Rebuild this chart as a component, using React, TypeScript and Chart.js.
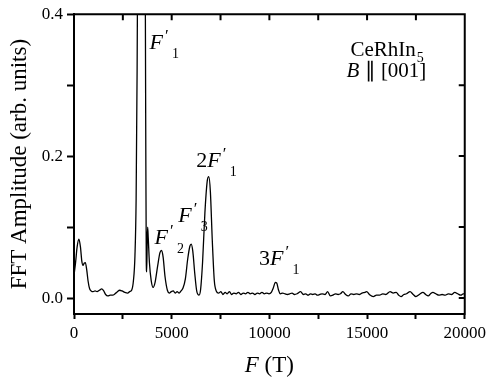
import React, { useEffect, useRef } from "react";
import { Chart, registerables } from "chart.js";

Chart.register(...registerables);

// Frequency (T) and FFT amplitude (arb. units) (10 per row, rows aligned)
const freqT = [
  0, 80, 160, 250, 330, 400, 460, 520, 580, 650,
  720, 800, 880, 980, 1080, 1180, 1300, 1420, 1520, 1620,
  1730, 1850, 1980, 2100, 2220, 2340, 2460, 2600, 2750, 2850,
  2950, 3040, 3120, 3180, 3230, 3280, 3380, 3460, 3560, 3630,
  3670, 3700, 3720, 3750, 3770, 3800, 3860, 3950, 4050, 4150,
  4280, 4400, 4480, 4560, 4660, 4780, 4880, 4980, 5080, 5180,
  5280, 5380, 5480, 5580, 5700, 5820, 5930, 6000, 6080, 6180,
  6280, 6400, 6480, 6580, 6700, 6820, 6900, 6980, 7080, 7180,
  7280, 7400, 7520, 7620, 7740, 7840, 7960, 8060, 8180, 8300,
  8420, 8540, 8660, 8780, 8900, 9020, 9140, 9260, 9380, 9500,
  9620, 9740, 9860, 9980, 10100, 10200, 10300, 10380, 10460, 10560,
  10680, 10800, 10920, 11040, 11160, 11280, 11420, 11600, 11740, 11860,
  11980, 12100, 12220, 12340, 12460, 12580, 12700, 12850, 12980, 13120,
  13250, 13380, 13520, 13640, 13760, 13900, 14040, 14180, 14320, 14460,
  14600, 14740, 14880, 14980, 15120, 15320, 15480, 15640, 15800, 15960,
  16180, 16340, 16490, 16620, 16740, 16880, 17020, 17200, 17360, 17500,
  17680, 17860, 18000, 18130, 18250, 18370, 18520, 18680, 18840, 19000,
  19160, 19320, 19490, 19640, 19800, 19920, 20000,
];
const amp = [
  0.032, 0.05, 0.072, 0.083, 0.072, 0.052, 0.046, 0.049, 0.05, 0.04,
  0.024, 0.013, 0.01, 0.009, 0.01, 0.009, 0.011, 0.013, 0.01, 0.005,
  0.003, 0.004, 0.004, 0.006, 0.009, 0.011, 0.01, 0.008, 0.007, 0.009,
  0.011, 0.024, 0.06, 0.14, 0.32, 0.6, 0.95, 1.1, 0.95, 0.6,
  0.25, 0.05, 0.037, 0.085, 0.1, 0.085, 0.05, 0.025, 0.015, 0.022,
  0.045, 0.064, 0.067, 0.058, 0.03, 0.011, 0.007, 0.009, 0.01, 0.007,
  0.009, 0.007, 0.01, 0.014, 0.027, 0.055, 0.073, 0.076, 0.066, 0.035,
  0.01, 0.004, 0.012, 0.05, 0.12, 0.165, 0.171, 0.15, 0.08, 0.025,
  0.01, 0.007, 0.009, 0.005, 0.008, 0.006, 0.009, 0.005, 0.007, 0.006,
  0.008, 0.005, 0.007, 0.006, 0.008, 0.006, 0.007, 0.005, 0.007, 0.006,
  0.008, 0.006, 0.007, 0.006, 0.008, 0.014, 0.022, 0.021, 0.012, 0.006,
  0.007, 0.006, 0.005, 0.006, 0.007, 0.005, 0.006, 0.009, 0.005, 0.006,
  0.004, 0.006, 0.005, 0.006, 0.004, 0.005, 0.006, 0.005, 0.009, 0.003,
  0.004, 0.006, 0.005, 0.006, 0.009, 0.005, 0.003, 0.006, 0.005, 0.006,
  0.005, 0.007, 0.008, 0.009, 0.005, 0.002, 0.004, 0.004, 0.006, 0.005,
  0.009, 0.007, 0.008, 0.004, 0.002, 0.005, 0.006, 0.009, 0.005, 0.002,
  0.005, 0.008, 0.005, 0.003, 0.006, 0.008, 0.006, 0.004, 0.005, 0.004,
  0.006, 0.005, 0.008, 0.006, 0.004, 0.006, 0.006,
];

const xTicks = [0, 2500, 5000, 7500, 10000, 12500, 15000, 17500, 20000];
const xLabelled = [0, 5000, 10000, 15000, 20000];
const yTicks = [0, 0.1, 0.2, 0.3, 0.4];
const yLabelled = [0, 0.2, 0.4];

// Peak labels: prefix, subscript, and the data-space anchor of each label's baseline
const peakPrefixes = ["", "", "", "2", "3"];
const peakSubs = ["1", "2", "3", "1", "1"];
const peakLabelX = [3870, 4120, 5340, 6260, 9466];
const peakLabelY = [0.351, 0.076, 0.107, 0.185, 0.046];

const compoundText = "CeRhIn";
const compoundSub = "5";
const fieldPrefix = "B";
const fieldText = " \u2225 [001]";

const yTitle = "FFT Amplitude (arb. units)";
const xTitleItalic = "F";
const xTitleRest = " (T)";

const SERIF = "'Liberation Serif', 'Times New Roman', serif";

const overlay = {
  id: "overlay",
  afterDraw(chart: any) {
    const { ctx, chartArea: a, scales } = chart;
    const xs = scales.x;
    const ys = scales.y;
    ctx.save();
    ctx.strokeStyle = "#000";
    ctx.fillStyle = "#000";
    ctx.lineWidth = 2;
    ctx.beginPath();
    ctx.moveTo(a.left - 1, a.top);
    ctx.lineTo(a.right + 1, a.top);
    ctx.moveTo(a.right, a.top);
    ctx.lineTo(a.right, a.bottom + 1);
    for (const v of xTicks) {
      const px = xs.getPixelForValue(v);
      ctx.moveTo(px, a.top);
      ctx.lineTo(px, a.top + 6);
    }
    for (const v of yTicks) {
      const py = ys.getPixelForValue(v);
      ctx.moveTo(a.right, py);
      ctx.lineTo(a.right - 6, py);
    }
    ctx.stroke();

    ctx.textAlign = "left";
    ctx.textBaseline = "alphabetic";
    for (let i = 0; i < peakSubs.length; i++) {
      let cx = xs.getPixelForValue(peakLabelX[i]);
      const by = ys.getPixelForValue(peakLabelY[i]);
      if (peakPrefixes[i]) {
        ctx.font = `22px ${SERIF}`;
        ctx.fillText(peakPrefixes[i], cx, by);
        cx += ctx.measureText(peakPrefixes[i]).width;
      }
      ctx.font = `italic 22px ${SERIF}`;
      ctx.fillText("F", cx, by);
      cx += ctx.measureText("F").width;
      ctx.font = `17px ${SERIF}`;
      ctx.fillText("\u2032", cx + 2, by - 8);
      ctx.font = `14px ${SERIF}`;
      ctx.fillText(peakSubs[i], cx + 9, by + 9);
    }

    {
      let cx = xs.getPixelForValue(14150);
      const by = ys.getPixelForValue(0.341);
      ctx.font = `21px ${SERIF}`;
      ctx.fillText(compoundText, cx, by);
      cx += ctx.measureText(compoundText).width;
      ctx.font = `14px ${SERIF}`;
      ctx.fillText(compoundSub, cx + 1, by + 6);

      let fx = xs.getPixelForValue(13950);
      const fy = ys.getPixelForValue(0.312);
      ctx.font = `italic 21px ${SERIF}`;
      ctx.fillText(fieldPrefix, fx, fy);
      fx += ctx.measureText(fieldPrefix).width;
      ctx.font = `21px ${SERIF}`;
      ctx.fillText(fieldText, fx, fy);
    }

    ctx.save();
    ctx.translate(20, (a.top + a.bottom) / 2);
    ctx.rotate(-Math.PI / 2);
    ctx.textAlign = "center";
    ctx.textBaseline = "middle";
    ctx.font = `23px ${SERIF}`;
    ctx.fillText(yTitle, 0, 0);
    ctx.restore();

    ctx.font = `italic 23px ${SERIF}`;
    const w1 = ctx.measureText(xTitleItalic).width;
    ctx.font = `23px ${SERIF}`;
    const w2 = ctx.measureText(xTitleRest).width;
    const sx = (a.left + a.right) / 2 - (w1 + w2) / 2;
    const ty = a.bottom + 58;
    ctx.font = `italic 23px ${SERIF}`;
    ctx.fillText(xTitleItalic, sx, ty);
    ctx.font = `23px ${SERIF}`;
    ctx.fillText(xTitleRest, sx + w1, ty);
    ctx.restore();
  },
};

export default function App() {
  const ref = useRef<HTMLCanvasElement | null>(null);
  useEffect(() => {
    if (!ref.current) return;
    const chart = new Chart(ref.current, {
      type: "line",
      data: {
        datasets: [
          {
            data: freqT.map((f, i) => ({ x: f, y: amp[i] })),
            borderColor: "#000",
            borderWidth: 1.3,
            pointRadius: 0,
            cubicInterpolationMode: "monotone",
            fill: false,
          },
        ],
      },
      options: {
        animation: false,
        responsive: false,
        devicePixelRatio: 1,
        layout: { padding: { top: 12, right: 23, left: 0, bottom: 0 } },
        plugins: { legend: { display: false }, tooltip: { enabled: false } },
        scales: {
          x: {
            type: "linear",
            min: 0,
            max: 20000,
            afterFit: (s: any) => {
              s.height = 70;
            },
            afterBuildTicks: (s: any) => {
              s.ticks = xTicks.map((v) => ({ value: v }));
            },
            ticks: {
              autoSkip: false,
              maxRotation: 0,
              padding: 4,
              color: "#000",
              font: { family: SERIF, size: 17 },
              callback: (v: any) => (xLabelled.includes(Number(v)) ? String(v) : ""),
            },
            grid: {
              drawOnChartArea: false,
              drawTicks: true,
              tickLength: 5,
              tickWidth: 2,
              tickColor: "#000",
            },
            border: { display: true, color: "#000", width: 2 },
          },
          y: {
            type: "linear",
            min: -0.0225,
            max: 0.4,
            afterFit: (s: any) => {
              s.width = 74;
            },
            afterBuildTicks: (s: any) => {
              s.ticks = yTicks.map((v) => ({ value: v }));
            },
            ticks: {
              autoSkip: false,
              padding: 4,
              color: "#000",
              font: { family: SERIF, size: 17 },
              callback: (v: any) => {
                const n = Number(v);
                return yLabelled.some((l) => Math.abs(l - n) < 1e-9) ? n.toFixed(1) : "";
              },
            },
            grid: {
              drawOnChartArea: false,
              drawTicks: true,
              tickLength: 7,
              tickWidth: 2,
              tickColor: "#000",
            },
            border: { display: true, color: "#000", width: 2 },
          },
        },
      },
      plugins: [overlay],
    });
    return () => chart.destroy();
  }, []);
  return (
    <div style={{ position: "fixed", left: 0, top: 0, width: 490, height: 384, background: "#fff" }}>
      <canvas ref={ref} width={490} height={384} style={{ display: "block" }} />
    </div>
  );
}
